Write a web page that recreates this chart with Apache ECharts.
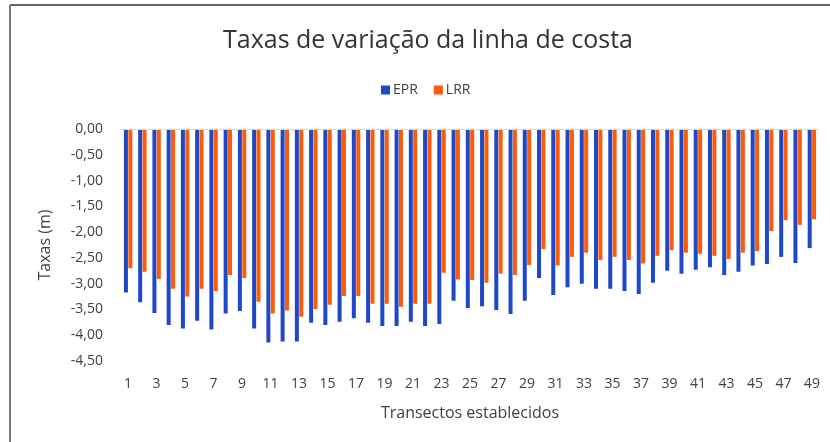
<!DOCTYPE html>
<html>
<head>
<meta charset="utf-8">
<script src="https://cdn.jsdelivr.net/npm/echarts@6/dist/echarts.min.js"></script>
<style>
html,body{margin:0;padding:0;background:#fff;}
#c{width:830px;height:442px;}
</style>
</head>
<body>
<div id="c"></div>
<script>
const categories = ["1","2","3","4","5","6","7","8","9","10","11","12","13","14","15","16","17","18","19","20","21","22","23","24","25","26","27","28","29","30","31","32","33","34","35","36","37","38","39","40","41","42","43","44","45","46","47","48","49"];
const epr = [-3.17,-3.36,-3.57,-3.80,-3.87,-3.72,-3.89,-3.58,-3.53,-3.87,-4.14,-4.12,-4.12,-3.76,-3.80,-3.74,-3.67,-3.76,-3.82,-3.82,-3.74,-3.82,-3.78,-3.33,-3.47,-3.44,-3.51,-3.59,-3.33,-2.89,-3.22,-3.07,-3.00,-3.10,-3.10,-3.14,-3.20,-2.98,-2.75,-2.81,-2.73,-2.68,-2.83,-2.77,-2.65,-2.62,-2.48,-2.60,-2.31];
const lrr = [-2.70,-2.77,-2.91,-3.10,-3.25,-3.10,-3.14,-2.83,-2.89,-3.35,-3.58,-3.52,-3.64,-3.49,-3.41,-3.24,-3.24,-3.39,-3.39,-3.45,-3.39,-3.39,-2.79,-2.92,-2.93,-2.98,-2.81,-2.83,-2.64,-2.33,-2.65,-2.48,-2.40,-2.54,-2.48,-2.54,-2.61,-2.46,-2.35,-2.40,-2.42,-2.46,-2.52,-2.40,-2.37,-1.98,-1.77,-1.86,-1.75];
const yTicks = {min:-4.5, max:0, interval:0.5};

const chart = echarts.init(document.getElementById('c'), null, {renderer:'canvas'});
const font = '"Open Sans", "Liberation Sans", sans-serif';
chart.setOption({
  animation:false,
  backgroundColor:'#fff',
  textStyle:{fontFamily:font},
  title:{
    text:'Taxas de variação da linha de costa',
    left:218, top:23,
    textStyle:{fontSize:25, fontWeight:'normal', color:'#333', fontFamily:font}
  },
  legend:{
    data:['EPR','LRR'],
    top:78, left:376,
    itemWidth:9, itemHeight:9, itemGap:16,
    icon:'rect',
    textStyle:{fontSize:14, color:'#404040', fontFamily:font, padding:[0,0,0,-2]}
  },
  grid:{left:121, right:11, top:129, bottom:81, containLabel:false},
  xAxis:{
    type:'category',
    data:categories,
    axisLine:{show:false, onZero:false},
    axisTick:{show:false},
    axisLabel:{interval:1, color:'#404040', fontSize:14, margin:16, fontFamily:font},
    name:'Transectos establecidos',
    nameLocation:'middle', nameGap:44,
    nameTextStyle:{fontSize:16, color:'#404040', fontFamily:font}
  },
  yAxis:{
    type:'value',
    min:yTicks.min, max:yTicks.max, interval:yTicks.interval,
    axisLine:{show:false}, axisTick:{show:false},
    splitLine:{show:false},
    axisLabel:{color:'#404040', fontSize:14, margin:18, fontFamily:font,
      formatter:v=>v.toFixed(2).replace('.',',')},
    name:'Taxas (m)',
    nameLocation:'middle', nameGap:68,
    nameTextStyle:{fontSize:16, color:'#404040', fontFamily:font}
  },
  series:[
    {name:'EPR', type:'bar', data:epr, barWidth:4, barGap:'10%',
     itemStyle:{color:'#1d48c8'},
     markLine:{silent:true, symbol:'none', label:{show:false},
       lineStyle:{color:'#d9d9d9', type:'solid', width:1},
       data:[{yAxis:0}]}},
    {name:'LRR', type:'bar', data:lrr, barWidth:4, barGap:'10%',
     itemStyle:{color:'#ff5a0a'}}
  ],
  graphic:[
    {type:'line', shape:{x1:10, y1:5, x2:830, y2:5}, style:{stroke:'#333', lineWidth:1.5}, silent:true},
    {type:'line', shape:{x1:10, y1:5, x2:10, y2:442}, style:{stroke:'#777', lineWidth:2}, silent:true}
  ]
});
</script>
</body>
</html>
